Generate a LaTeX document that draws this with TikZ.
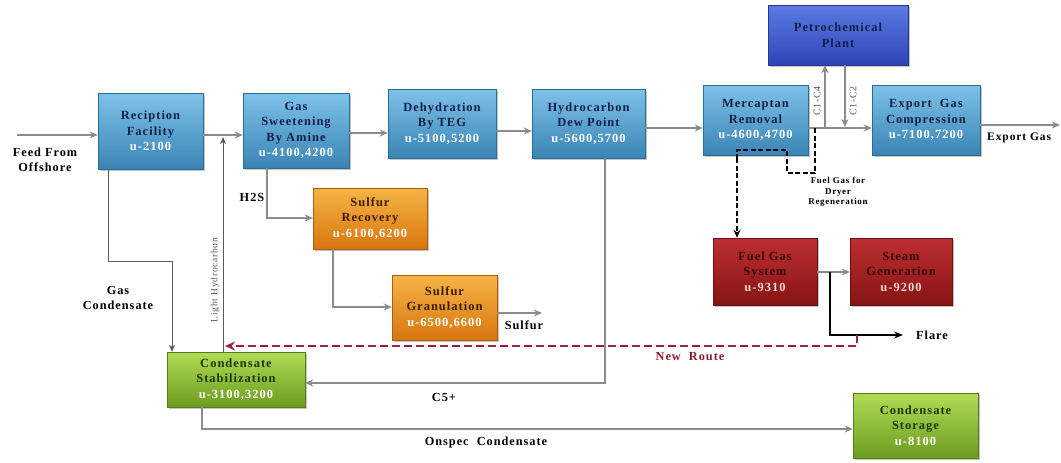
\documentclass[tikz,border=0pt]{standalone}
\usepackage{fontspec}
\setmainfont{Liberation Serif}
\newfontfamily\boxfont[LetterSpace=8]{Liberation Serif}
\newfontfamily\lblfont[LetterSpace=8]{Liberation Serif}
\usetikzlibrary{shadows,arrows.meta}
\definecolor{lgray}{HTML}{8C8C8C}
\definecolor{dgray}{HTML}{5A5A5A}
\definecolor{bluetop}{HTML}{7DC2E8}
\definecolor{bluebot}{HTML}{3A84B5}
\definecolor{bluetxt}{HTML}{15204A}
\definecolor{pettop}{HTML}{5B7BE3}
\definecolor{petbot}{HTML}{2E45B5}
\definecolor{ortop}{HTML}{F6B445}
\definecolor{orbot}{HTML}{D8760E}
\definecolor{ortxt}{HTML}{3A1C00}
\definecolor{redtop}{HTML}{BE2E30}
\definecolor{redbot}{HTML}{861414}
\definecolor{redtxt}{HTML}{360505}
\definecolor{grtop}{HTML}{B0DC55}
\definecolor{grbot}{HTML}{6C9C1F}
\definecolor{grtxt}{HTML}{1E3604}
\definecolor{nrred}{HTML}{A3203A}
\newcommand{\ulab}[1]{\textcolor{white}{#1}}
\newcommand{\ulabr}[1]{\textcolor[HTML]{F2D6D6}{#1}}
\tikzset{
  pbase/.style={rectangle, inner sep=1pt, align=center,
    font=\boxfont\bfseries\fontsize{12.5}{15.5}\selectfont,
    drop shadow={shadow xshift=2pt, shadow yshift=-2pt, opacity=0.45},
    line width=0.4pt},
  bluebox/.style={pbase, top color=bluetop, bottom color=bluebot, draw=bluebot!80!black, text=bluetxt},
  petbox/.style={pbase, top color=pettop, bottom color=petbot, draw=petbot!80!black, text=bluetxt},
  orbox/.style={pbase, top color=ortop, bottom color=orbot, draw=orbot!80!black, text=ortxt},
  redbox/.style={pbase, top color=redtop, bottom color=redbot, draw=redbot!80!black, text=redtxt},
  grbox/.style={pbase, top color=grtop, bottom color=grbot, draw=grbot!80!black, text=grtxt},
  arr/.style={draw=lgray, line width=1.5pt, -{Stealth[length=8pt,width=7pt,inset=2.5pt]}},
  arrd/.style={draw=dgray, line width=1pt, -{Stealth[length=7pt,width=6pt,inset=2pt]}},
  fgdash/.style={draw=black, line width=2.2pt, dash pattern=on 5pt off 2.5pt},
  flareln/.style={draw=black, line width=1.8pt},
  nroute/.style={draw=nrred, line width=2.4pt, dash pattern=on 8pt off 4pt},
  lbl/.style={font=\lblfont\bfseries\fontsize{12.3}{14.5}\selectfont, align=center, text=black},
  slbl/.style={font=\lblfont\fontsize{9.5}{10}\selectfont, text=dgray},
}
\begin{document}
\begin{tikzpicture}[x=1pt,y=-1pt]
\useasboundingbox (0,0) rectangle (1061,463);
\fill[white] (0,0) rectangle (1061,463);

% boxes
\node[bluebox, minimum width=105pt, minimum height=76pt] (rec) at (150.5,131) {Reciption\\Facility\\\ulab{u-2100}};
\node[bluebox, minimum width=106pt, minimum height=75pt] (swt) at (296,130.5) {Gas\\Sweetening\\By Amine\\\ulab{u-4100,4200}};
\node[bluebox, minimum width=108pt, minimum height=69pt] (dhy) at (442,123.5) {Dehydration\\By TEG\\\ulab{u-5100,5200}};
\node[bluebox, minimum width=113pt, minimum height=69pt] (dew) at (588.5,123.5) {Hydrocarbon\\Dew Point\\\ulab{u-5600,5700}};
\node[bluebox, minimum width=105pt, minimum height=70pt] (mer) at (755.5,120) {Mercaptan\\Removal\\\ulab{u-4600,4700}};
\node[petbox, minimum width=140pt, minimum height=60pt] (pet) at (838,35) {Petrochemical\\Plant};
\node[bluebox, minimum width=108pt, minimum height=70pt] (exp) at (926,120) {Export~~Gas\\Compression\\\ulab{u-7100,7200}};
\node[orbox, minimum width=114pt, minimum height=61pt] (sr) at (370,218.5) {Sulfur\\Recovery\\\ulab{u-6100,6200}};
\node[orbox, minimum width=105pt, minimum height=65pt] (sg) at (444.5,307.5) {Sulfur\\Granulation\\\ulab{u-6500,6600}};
\node[redbox, minimum width=104pt, minimum height=67pt] (fg) at (765,271.5) {Fuel Gas\\System\\\ulabr{u-9310}};
\node[redbox, minimum width=102pt, minimum height=67pt] (stm) at (901,271.5) {Steam\\Generation\\\ulabr{u-9200}};
\node[grbox, minimum width=138pt, minimum height=55pt] (cs) at (236,379.5) {Condensate\\Stabilization\\\ulab{u-3100,3200}};
\node[grbox, minimum width=125pt, minimum height=65pt] (cst) at (915.5,425.5) {Condensate\\Storage\\\ulab{u-8100}};

% coordinates
\coordinate (feed) at (17,135);
\coordinate (lhj) at (223,137);
\coordinate (sulfend) at (542,313);
\coordinate (c14) at (825,128);
\coordinate (c12) at (845,127);
\coordinate (expend) at (1060,125);
\coordinate (fgj) at (815,128);
\coordinate (flj) at (830,272);
\coordinate (flend) at (903,335);
\coordinate (nrstart) at (857,335);
\coordinate (nrend) at (225,346);

% main line
\draw[arr] (feed) -- (feed -| rec.west);
\draw[arr] (rec.east |- 0,135) -- (swt.west |- 0,135);
\draw[arr] (swt.east |- 0,133) -- (dhy.west |- 0,133);
\draw[arr] (dhy.east |- 0,131) -- (dew.west |- 0,131);
\draw[arr] (dew.east |- 0,128) -- (mer.west |- 0,128);
\draw[arr] (mer.east |- 0,128) -- (exp.west |- 0,128);
\draw[arr] (exp.east |- 0,125) -- (expend);
\draw[arr, line width=1.2pt] (c14) -- (pet.south -| c14);
\draw[arr, line width=1.2pt] (pet.south -| c12) -- (c12);

% side lines
\draw[arr] (swt.south -| 267,0) |- (sr.west |- 0,218);
\draw[arr] (sr.south -| 333,0) |- (sg.west |- 0,307);
\draw[arr] (sg.east |- sulfend) -- (sulfend);
\draw[arr] (dew.south -| 605,0) |- (cs.east |- 0,383);
\draw[arr] (cs.south -| 202,0) |- (cst.west |- 0,429);
\draw[arr] (fg.east |- flj) -- (stm.west |- flj);
\draw[arrd] (rec.south -| 108,0) |- (172,261) -- (cs.north -| 172,0);
\draw[arrd] (cs.north -| lhj) -- (lhj);

% fuel gas dashed
\draw[fgdash] (fgj) -- (815,173) -- (787,173) -- (787,150) -- (737,150) -- (737,160);
\draw[fgdash, -{Stealth[length=8pt,width=7pt]}] (737,158) -- (fg.north -| 737,0);

% flare
\draw[flareln, -{Stealth[length=9pt,width=7pt]}] (flj) |- (flend);

% new route
\draw[nroute, -{Stealth[length=10pt,width=9pt]}] (nrstart) |- (nrend);

% labels
\node[lbl] (lfeed) at (45,160) {Feed From\\Offshore};
\node[lbl] (lh2s) at (252,197) {H2S};
\node[lbl] (lgc) at (118,298) {Gas\\Condensate};
\node[slbl, rotate=90] (llh) at (215,280) {Light Hydrocarbon};
\node[slbl, rotate=90, font=\lblfont\fontsize{10}{10}\selectfont] (lc14) at (817,101) {C1-C4};
\node[slbl, rotate=90, font=\lblfont\fontsize{10}{10}\selectfont] (lc12) at (853,101) {C1-C2};
\node[lbl, anchor=west, inner sep=1pt, font=\lblfont\bfseries\fontsize{11.5}{14}\selectfont] (lexp) at (986,138) {Export Gas};
\node[lbl, font=\lblfont\bfseries\fontsize{9}{10.5}\selectfont] (lfgd) at (838,192) {Fuel Gas for\\Dryer\\Regeneration};
\node[lbl] (lsul) at (524,325) {Sulfur};
\node[lbl, text=nrred!85!black] (lnr) at (690,357) {New~~Route};
\node[lbl] (lfl) at (932,335) {Flare};
\node[lbl] (lc5) at (444,397) {C5+};
\node[lbl] (lon) at (486,443) {Onspec~~Condensate};
\end{tikzpicture}
\end{document}
